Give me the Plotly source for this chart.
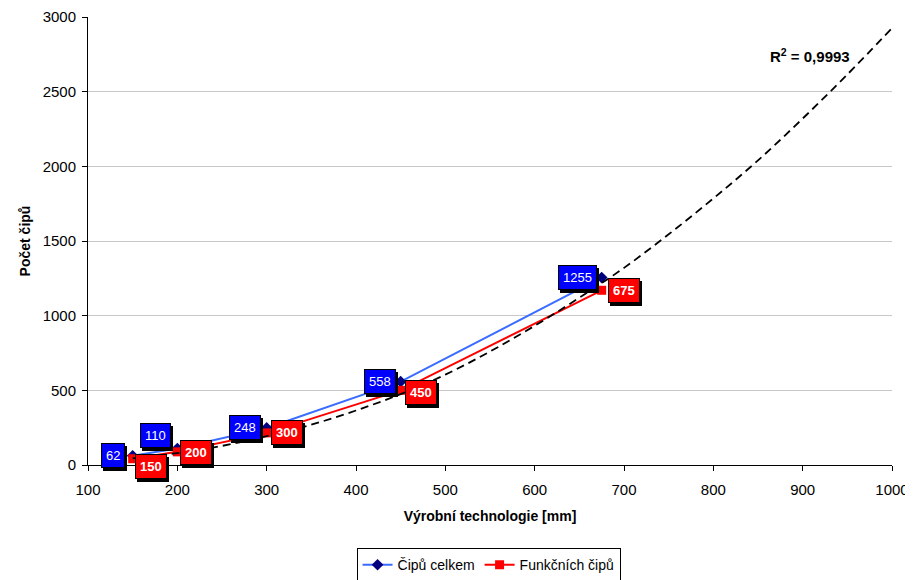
import plotly.graph_objects as go

# ---- data ----
technology = [150, 200, 300, 450, 675]          # x values [mm]
chips_total = [62, 110, 248, 558, 1255]        # Čipů celkem
chips_functional = [42, 88, 215, 500, 1170]    # Funkčních čipů (estimated)
functional_labels = ["150", "200", "300", "450", "675"]
total_labels = ["62", "110", "248", "558", "1255"]

# dashed trend line
trend_x = [150, 200, 250, 300, 350, 400, 450, 500, 550, 600, 650, 700, 750, 800, 850, 900, 950, 1000]
trend_y = [45, 80, 128, 193, 270, 365, 475, 605, 760, 932, 1120, 1320, 1545, 1785, 2040, 2320, 2615, 2925]
r2_text = "R<sup>2</sup> = 0,9993"

# label offsets (pixels) for the data-label boxes
total_shift = [(-20, 0), (-22, 13), (-22, 0), (-21, 0), (-24, 0)]
func_shift = [(18, -8), (19, -1), (20, 0), (20, -2), (22, 0)]

FONT = "Liberation Sans"

fig = go.Figure()

fig.add_trace(go.Scatter(
    x=technology, y=chips_total, mode="lines+markers", name="Čipů celkem",
    line=dict(color="#3a6cff", width=2),
    marker=dict(symbol="diamond", size=9, color="#000080", line=dict(width=0)),
))
fig.add_trace(go.Scatter(
    x=technology, y=chips_functional, mode="lines+markers", name="Funkčních čipů",
    line=dict(color="#ff0000", width=2),
    marker=dict(symbol="square", size=9, color="#ff0000", line=dict(width=0)),
))
fig.add_trace(go.Scatter(
    x=trend_x, y=trend_y, mode="lines", showlegend=False, hoverinfo="skip",
    line=dict(color="black", width=1.8, dash="8px,5px", shape="spline"),
))

annotations = []

def add_label(x, y, text, bg, shift, bold):
    t = f"<b>{text}</b>" if bold else text
    common = dict(x=x, y=y, xref="x", yref="y", showarrow=False,
                  font=dict(family=FONT, size=13, color="white"),
                  borderpad=4, borderwidth=1)
    # shadow
    annotations.append(dict(common, text=t, bgcolor="black", bordercolor="black",
                            font=dict(family=FONT, size=13, color="black"),
                            xshift=shift[0] + 2, yshift=shift[1] - 3))
    annotations.append(dict(common, text=t, bgcolor=bg, bordercolor="black",
                            xshift=shift[0], yshift=shift[1]))

for xv, yv, lab, sh in zip(technology, chips_total, total_labels, total_shift):
    add_label(xv, yv, lab, "#0000ff", sh, False)
for xv, yv, lab, sh in zip(technology, chips_functional, functional_labels, func_shift):
    add_label(xv, yv, lab, "#ff0000", sh, True)

annotations.append(dict(x=908, y=2745, xref="x", yref="y", showarrow=False,
                        text=f"<b>{r2_text}</b>",
                        font=dict(family=FONT, size=15, color="black")))

# the page body adds an 8px offset, so the figure is 8px smaller than the window
fig.update_layout(
    width=905, height=572,
    margin=dict(l=80, r=21, t=9, b=115, autoexpand=False),
    paper_bgcolor="white", plot_bgcolor="white",
    font=dict(family=FONT, size=14, color="black"),
    annotations=annotations,
    showlegend=True,
    legend=dict(orientation="h", x=0.531, xanchor="center", xref="container",
                y=0.026, yanchor="middle", yref="container",
                bordercolor="black", borderwidth=1, font=dict(size=14),
                itemwidth=30, tracegroupgap=0),
    xaxis=dict(range=[100, 1000], dtick=100, tick0=100, showgrid=False, zeroline=False,
               automargin=False,
               showline=True, linecolor="black", linewidth=1,
               ticks="outside", ticklen=5, tickcolor="black",
               tickfont=dict(size=15), ticklabelstandoff=6,
               title=dict(text="<b>Výrobní technologie [mm]</b>", font=dict(size=14), standoff=14)),
    yaxis=dict(range=[0, 3000], dtick=500, showgrid=True, gridcolor="#c8c8c8", gridwidth=1,
               automargin=False,
               zeroline=False, showline=True, linecolor="black", linewidth=1,
               ticks="outside", ticklen=5, tickcolor="black",
               tickfont=dict(size=15), ticklabelstandoff=3,
               title=dict(text="<b>Počet čipů</b>", font=dict(size=14), standoff=8)),
)

fig.write_html("out.html")
